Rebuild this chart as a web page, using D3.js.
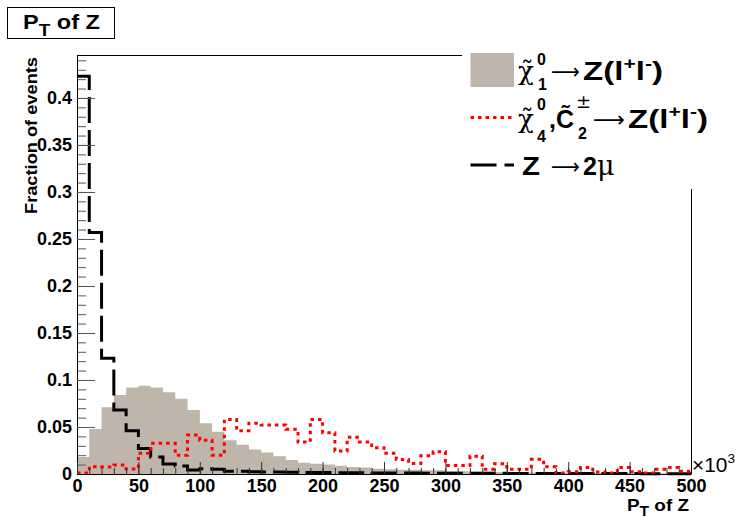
<!DOCTYPE html>
<html>
<head>
<script src="https://d3js.org/d3.v7.min.js"></script>
<style>
  body { margin: 0; background: #fff; }
  svg { display: block; font-family: "Liberation Sans", Arial, sans-serif; }
</style>
</head>
<body>
<svg id="chart" width="737" height="518"></svg>
<script>
// P_T of Z, 10 GeV bins (x in units of 10^3 on the axis)
const binLow = [0, 10, 20, 30, 40, 50, 60, 70, 80, 90,
                100, 110, 120, 130, 140, 150, 160, 170, 180, 190,
                200, 210, 220, 230, 240, 250, 260, 270, 280, 290,
                300, 310, 320, 330, 340, 350, 360, 370, 380, 390,
                400, 410, 420, 430, 440, 450, 460, 470, 480, 490];
const binWidth = 10;

// chi1^0 -> Z(l+l-)  (grey filled)
const chi1 = [0.018, 0.048, 0.071, 0.084, 0.092, 0.094, 0.092, 0.087, 0.080, 0.068,
              0.054, 0.045, 0.036, 0.031, 0.026, 0.023, 0.019, 0.015, 0.012, 0.011,
              0.010, 0.0088, 0.0075, 0.007, 0.0055, 0.005, 0.0045, 0.0045, 0.004, 0.004,
              0.003, 0.003, 0.0025, 0.0025, 0.002, 0.002, 0.0015, 0.0015, 0.0015, 0.001,
              0.001, 0.001, 0.001, 0.0008, 0.0008, 0.0006, 0.0006, 0.0005, 0.0005, 0.0004];

// chi4^0, C2^+- -> Z(l+l-)  (red dotted)
const chi4 = [0.001, 0.0078, 0.0075, 0.0096, 0.0053, 0.022, 0.0326, 0.0326, 0.020, 0.0415,
              0.036, 0.020, 0.058, 0.046, 0.054, 0.052, 0.052, 0.0475, 0.034, 0.058,
              0.044, 0.0245, 0.039, 0.034, 0.028, 0.022, 0.0155, 0.0113, 0.0195, 0.0237,
              0.009, 0.009, 0.019, 0.005, 0.011, 0.005, 0.005, 0.0156, 0.0078, 0.001,
              0.0025, 0.007, 0.002, 0.001, 0.007, 0.0025, 0.001, 0.005, 0.007, 0.003];

// Z -> 2mu  (black dashed)
const zmumu = [0.423, 0.257, 0.123, 0.068, 0.046, 0.027, 0.018, 0.0106, 0.0085, 0.0043,
               0.0055, 0.005, 0.003, 0.003, 0.0025, 0.002, 0.002, 0.0018, 0.0015, 0.0015,
               0.0015, 0.0014, 0.0012, 0.0012, 0.001, 0.001, 0.001, 0.001, 0.0009, 0.0009,
               0.0008, 0.0008, 0.0008, 0.0007, 0.0007, 0.0006, 0.0006, 0.0006, 0.0005, 0.0005,
               0.0005, 0.0005, 0.0004, 0.0004, 0.0004, 0.0004, 0.0003, 0.0003, 0.0003, 0.0003];

const xTicks = [0, 50, 100, 150, 200, 250, 300, 350, 400, 450, 500];
const yTicks = [0, 0.05, 0.1, 0.15, 0.2, 0.25, 0.3, 0.35, 0.4];
const yTickLabels = ["0", "0.05", "0.1", "0.15", "0.2", "0.25", "0.3", "0.35", "0.4"];

const svg = d3.select("#chart");
const W = 737, H = 518;
const margin = { top: 55, right: 46, bottom: 44, left: 77 };

const x = d3.scaleLinear().domain([0, 500]).range([margin.left, W - margin.right]);
const y = d3.scaleLinear().domain([0, 0.4457]).range([H - margin.bottom, margin.top]);

function steps(vals) {
  const pts = [];
  vals.forEach((v, i) => {
    pts.push([binLow[i], v]);
    pts.push([binLow[i] + binWidth, v]);
  });
  return pts;
}
const line = d3.line().x(d => x(d[0])).y(d => y(d[1]));

// grey filled histogram
svg.append("path")
  .attr("d", line([[0, 0], ...steps(chi1), [500, 0]]) + "Z")
  .attr("fill", "#bfb5aa");

// Z -> 2mu
svg.append("path")
  .attr("d", line(steps(zmumu)))
  .attr("fill", "none")
  .attr("stroke", "#000")
  .attr("stroke-width", 3)
  .attr("stroke-dasharray", "26,7");

// chi4/C2
svg.append("path")
  .attr("d", line(steps(chi4)))
  .attr("fill", "none")
  .attr("stroke", "#ff0000")
  .attr("stroke-width", 3)
  .attr("stroke-dasharray", "3.5,4");

// axes
const x0 = x(0), y0 = y(0);
const yMinor = d3.range(1, 45).map(i => i / 100);
const xMinor = d3.range(10, 500, 10);

svg.append("g")
  .attr("transform", `translate(${x0},0)`)
  .call(d3.axisLeft(y).tickValues(yMinor).tickSize(-9).tickSizeOuter(0).tickFormat(""))
  .call(g => g.select(".domain").remove())
  .selectAll("line").attr("stroke", "#555");

svg.append("g")
  .attr("transform", `translate(0,${y0})`)
  .call(d3.axisBottom(x).tickValues(xMinor).tickSize(-6).tickSizeOuter(0).tickFormat(""))
  .call(g => g.select(".domain").remove())
  .selectAll("line").attr("stroke", "#333");

const yAxis = svg.append("g")
  .attr("transform", `translate(${x0},0)`)
  .call(d3.axisLeft(y).tickValues(yTicks).tickSize(-18).tickSizeOuter(0).tickPadding(5)
        .tickFormat((d, i) => yTickLabels[i]));
yAxis.selectAll("line").attr("stroke", "#555");
yAxis.select(".domain").attr("stroke", "#000");
yAxis.selectAll("text")
  .attr("font-family", "Liberation Sans, Arial, sans-serif")
  .attr("font-weight", "bold").attr("font-size", 18).attr("fill", "#000");

const xAxis = svg.append("g")
  .attr("transform", `translate(0,${y0})`)
  .call(d3.axisBottom(x).tickValues(xTicks).tickSize(-12).tickSizeOuter(0).tickPadding(5)
        .tickFormat(d3.format("d")));
xAxis.selectAll("line").attr("stroke", "#333");
xAxis.select(".domain").attr("stroke", "#000");
xAxis.selectAll("text")
  .attr("font-family", "Liberation Sans, Arial, sans-serif")
  .attr("font-weight", "bold").attr("font-size", 18).attr("fill", "#000");

// frame top and right
svg.append("line").attr("x1", x0).attr("x2", x(500)).attr("y1", y.range()[1] + 0.5).attr("y2", y.range()[1] + 0.5)
  .attr("stroke", "#000");
svg.append("line").attr("x1", x(500) + 0.5).attr("x2", x(500) + 0.5).attr("y1", y.range()[1]).attr("y2", y0)
  .attr("stroke", "#000");

// axis titles
svg.append("text")
  .attr("transform", `translate(37,57) rotate(-90)`)
  .attr("text-anchor", "end")
  .attr("font-weight", "bold").attr("font-size", 16)
  .attr("textLength", 157).attr("lengthAdjust", "spacingAndGlyphs")
  .text("Fraction of events");

const xt = svg.append("text")
  .attr("x", 627).attr("y", 511)
  .attr("font-weight", "bold").attr("font-size", 17)
  .attr("textLength", 62).attr("lengthAdjust", "spacingAndGlyphs");
xt.append("tspan").text("P");
xt.append("tspan").attr("font-size", 14).attr("dy", 5).text("T");
xt.append("tspan").attr("dy", -5).text(" of Z");

const ex = svg.append("text")
  .attr("x", 692).attr("y", 472)
  .attr("font-size", 20)
  .attr("textLength", 43).attr("lengthAdjust", "spacingAndGlyphs");
ex.append("tspan").text("\u00d710");
ex.append("tspan").attr("font-size", 13).attr("dy", -9).text("3");

// legend
svg.append("rect").attr("x", 462).attr("y", 40).attr("width", 275).attr("height", 149).attr("fill", "#fff");

const lx0 = 470.5, lx1 = 514;
svg.append("rect").attr("x", lx0).attr("y", 53).attr("width", lx1 - lx0).attr("height", 34)
  .attr("fill", "#bfb5aa");
svg.append("line").attr("x1", lx0).attr("x2", lx1).attr("y1", 117.5).attr("y2", 117.5)
  .attr("stroke", "#ff0000").attr("stroke-width", 3).attr("stroke-dasharray", "3.5,4");
svg.append("line").attr("x1", lx0).attr("x2", lx1).attr("y1", 165).attr("y2", 165)
  .attr("stroke", "#000").attr("stroke-width", 3).attr("stroke-dasharray", "26,8");

function txt(xp, yp, s, size, opts = {}) {
  const t = svg.append("text").attr("x", xp).attr("y", yp)
    .attr("font-size", size)
    .attr("font-weight", opts.weight || "bold")
    .attr("font-family", opts.family || "Liberation Sans, Arial, sans-serif")
    .text(s);
  if (opts.len) t.attr("textLength", opts.len).attr("lengthAdjust", "spacingAndGlyphs");
  return t;
}
function zll(xp, yp, len) {
  const t = svg.append("text").attr("x", xp).attr("y", yp)
    .attr("font-size", 25).attr("font-weight", "bold")
    .attr("textLength", len).attr("lengthAdjust", "spacingAndGlyphs");
  t.append("tspan").text("Z(l");
  t.append("tspan").attr("font-size", 16).attr("dy", -11).text("+");
  t.append("tspan").attr("dy", 11).text("l");
  t.append("tspan").attr("font-size", 16).attr("dy", -11).text("-");
  t.append("tspan").attr("dy", 11).text(")");
}
const serif = "DejaVu Serif, serif";
const arrowFont = "DejaVu Sans, sans-serif";
const arrow = "\u27f6";

// entry 1
txt(518, 80, "\u03c7\u0303", 26, { weight: "normal", family: serif });
txt(537, 65, "0", 16);
txt(538, 90, "1", 16);
txt(551, 79, arrow, 22, { weight: "normal", family: arrowFont, len: 29 });
zll(583, 80, 80);

// entry 2
txt(518, 128, "\u03c7\u0303", 26, { weight: "normal", family: serif });
txt(537, 110, "0", 16);
txt(537, 142, "4", 16);
txt(549, 128, ",", 25);
txt(556, 128, "C\u0303", 25);
txt(576, 108, "\u00b1", 18, { weight: "normal", family: serif });
txt(578, 139, "2", 16);
txt(593, 127, arrow, 22, { weight: "normal", family: arrowFont, len: 32 });
zll(628, 128, 80);

// entry 3
txt(522, 175, "Z", 25, { len: 18 });
txt(551, 174, arrow, 22, { weight: "normal", family: arrowFont, len: 29 });
const mu = svg.append("text").attr("x", 583).attr("y", 175).attr("font-size", 25).attr("font-weight", "bold");
mu.append("tspan").text("2");
mu.append("tspan").attr("font-weight", "normal").attr("font-family", serif).attr("font-size", 27).text("\u03bc");

// title box
svg.append("rect").attr("x", 7.5).attr("y", 7.5).attr("width", 107).attr("height", 31)
  .attr("fill", "#fff").attr("stroke", "#000");
const tt = svg.append("text").attr("x", 23).attr("y", 28.5)
  .attr("font-weight", "bold").attr("font-size", 20)
  .attr("textLength", 77).attr("lengthAdjust", "spacingAndGlyphs");
tt.append("tspan").text("P");
tt.append("tspan").attr("font-size", 16).attr("dy", 7).text("T");
tt.append("tspan").attr("dy", -7).text(" of Z");
</script>
</body>
</html>
